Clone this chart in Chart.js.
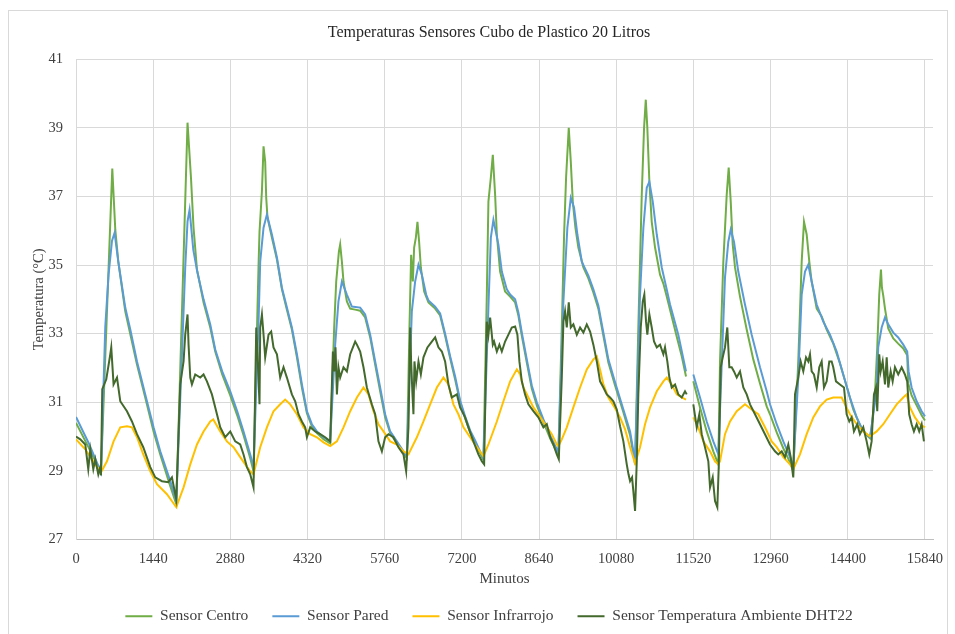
<!DOCTYPE html>
<html>
<head>
<meta charset="utf-8">
<script src="https://cdn.jsdelivr.net/npm/chart.js@4.4.0/dist/chart.umd.min.js"></script>
<style>
  html, body { margin: 0; padding: 0; background: #fff; }
  #frame { position: absolute; left: 8px; top: 10px; width: 938px; height: 640px; border: 1px solid #d9d9d9; }
  #wrap { position: absolute; left: 0; top: 0; width: 955px; height: 634px; }
</style>
</head>
<body>
<div id="frame"></div>
<div id="wrap"><canvas id="tempChart" width="955" height="634"></canvas></div>
<script>
// readings: [minute, °C]  (null = gap in the logger)
const sensorCentro = [
  [0,30.4],[230,29.7],[466,28.96],[677,37.81],[733,36.03],[789,35.1],[919,33.65],[1138,32.1],[1292,31.14],[1447,30.15],[1572,29.48],[1759,28.55],[1871,28.03],
  [2081,39.15],[2145,37.55],[2193,36.09],[2257,34.87],[2380,33.91],[2505,33.18],[2598,32.48],[2728,31.81],[2878,31.2],[3008,30.62],[3126,30.04],[3251,29.37],[3312,28.99],
  [3405,34.93],[3424,35.97],[3469,37.15],[3499,38.46],[3530,38.01],[3549,36.96],[3573,36.38],[3655,35.8],[3749,35.16],[3842,34.29],[3935,33.7],[4028,33.12],[4122,32.31],[4215,31.43],[4308,30.68],[4401,30.3],[4495,30.1],[4618,29.92],[4743,29.8],
  [4817,33.18],[4855,34.52],[4905,35.39],[4929,35.6],[4961,35.1],[4991,34.52],[5054,33.94],[5116,33.73],[5209,33.7],[5302,33.67],[5395,33.47],[5489,32.89],[5582,32.1],[5675,31.32],[5768,30.56],[5862,30.1],[5987,29.8],[6110,29.51],[6173,29.37],
  [6222,33.18],[6253,35.3],[6285,34.52],[6309,35.51],[6341,35.8],[6371,36.26],[6402,35.68],[6434,34.93],[6496,34.23],[6576,33.91],[6701,33.73],[6794,33.53],[6887,32.94],[6981,32.28],[7074,31.66],[7167,31.0],[7260,30.53],[7354,30.12],[7447,29.83],[7540,29.51],[7602,29.31],
  [7665,34.14],[7695,36.85],[7740,37.55],[7777,38.21],[7820,37.05],[7852,35.89],[7913,34.81],[8006,34.23],[8100,34.08],[8193,33.91],[8254,33.53],[8318,32.94],[8411,32.16],[8504,31.4],[8598,30.91],[8721,30.42],[8846,29.95],[8971,29.54],[9000,29.45],
  [9064,33.18],[9107,35.89],[9144,37.55],[9194,39.0],[9232,38.01],[9269,36.85],[9318,36.09],[9373,35.51],[9467,34.93],[9560,34.61],[9653,34.2],[9746,33.73],[9840,32.94],[9933,32.16],[10058,31.49],[10213,30.71],[10338,30.04],[10431,29.19],
  [10492,33.18],[10556,37.05],[10599,39.0],[10631,39.82],[10660,39.0],[10698,37.43],[10742,36.26],[10804,35.51],[10897,34.72],[10959,34.46],[11022,34.08],[11115,33.5],[11209,32.91],[11302,32.34],[11382,31.75],[11450,null],[11518,31.61],[11643,30.85],[11768,30.15],[11891,29.57],[11985,29.19],
  [12016,32.19],[12078,35.1],[12141,37.05],[12178,37.84],[12216,36.85],[12253,35.6],[12296,34.93],[12389,34.08],[12514,33.12],[12637,32.25],[12762,31.55],[12887,30.88],[12949,30.65],[13074,30.12],[13197,29.66],[13322,29.25],[13383,28.99],
  [13476,32.19],[13540,35.1],[13583,36.26],[13633,35.89],[13682,35.1],[13726,34.52],[13820,33.73],[13913,33.5],[14006,33.12],[14129,32.71],[14254,32.13],[14379,31.46],[14502,30.79],[14627,30.33],[14752,30.04],[14814,29.95],
  [14845,30.27],[14907,31.23],[14950,32.6],[14987,34.14],[15019,34.87],[15037,34.34],[15062,34.11],[15094,33.73],[15155,33.15],[15249,32.86],[15341,32.71],[15435,32.57],[15509,32.37],[15528,31.55],[15591,31.2],[15685,30.91],[15778,30.62],[15840,30.47]
];

const sensorPared = [
  [0,30.57],[240,29.8],[466,28.96],[546,33.2],[608,34.72],[671,35.7],[720,35.94],[789,35.1],[919,33.76],[1013,33.12],[1138,32.19],[1292,31.23],[1447,30.27],[1572,29.57],[1759,28.7],[1871,28.12],
  [1977,32.4],[2038,34.93],[2081,36.27],[2119,36.61],[2188,35.45],[2262,34.81],[2380,34.0],[2505,33.27],[2598,32.54],[2728,31.9],[2878,31.32],[3008,30.74],[3126,30.15],[3251,29.48],[3312,29.11],
  [3405,33.27],[3437,35.1],[3499,36.09],[3562,36.47],[3655,35.89],[3749,35.22],[3842,34.34],[3935,33.76],[4028,33.18],[4122,32.4],[4215,31.52],[4308,30.74],[4401,30.36],[4495,30.15],[4618,29.98],[4743,29.86],
  [4836,32.68],[4897,33.94],[4961,34.52],[5054,34.14],[5147,33.79],[5302,33.76],[5395,33.56],[5489,32.97],[5582,32.19],[5675,31.43],[5768,30.65],[5862,30.15],[5987,29.86],[6110,29.57],[6173,29.43],
  [6266,33.65],[6328,34.52],[6390,35.01],[6453,34.72],[6533,34.14],[6576,33.97],[6701,33.79],[6794,33.59],[6887,33.0],[6981,32.34],[7074,31.75],[7167,31.05],[7260,30.59],[7354,30.18],[7447,29.89],[7540,29.57],[7602,29.37],
  [7695,33.76],[7740,35.8],[7788,36.32],[7881,35.6],[7945,34.81],[8038,34.29],[8100,34.14],[8193,34.0],[8254,33.62],[8318,33.03],[8411,32.25],[8504,31.49],[8598,31.0],[8721,30.5],[8846,30.04],[8971,29.63],[9000,29.54],
  [9094,33.94],[9168,36.09],[9232,36.96],[9293,36.67],[9355,35.89],[9437,35.1],[9560,34.69],[9653,34.29],[9746,33.82],[9840,33.03],[9933,32.25],[10058,31.58],[10213,30.79],[10338,30.15],[10431,29.28],
  [10524,34.14],[10586,36.09],[10649,37.25],[10698,37.43],[10761,36.85],[10836,35.89],[10929,34.93],[11022,34.29],[11084,33.85],[11238,32.97],[11382,31.9],[11450,null],[11518,31.81],[11643,31.14],[11768,30.44],[11891,29.86],[11985,29.48],
  [12109,34.64],[12171,35.68],[12216,36.03],[12277,35.68],[12357,34.81],[12482,33.85],[12607,32.97],[12762,32.02],[12887,31.32],[12949,30.94],[13074,30.36],[13197,29.86],[13322,29.4],[13383,29.11],
  [13476,31.7],[13540,34.14],[13602,34.81],[13663,35.01],[13726,34.52],[13820,33.85],[13943,33.35],[14068,32.97],[14193,32.48],[14316,31.81],[14441,31.14],[14566,30.56],[14689,30.15],[14814,29.98],
  [14845,30.3],[14939,31.37],[14968,32.6],[15032,33.18],[15094,33.47],[15155,33.27],[15249,33.03],[15341,32.89],[15435,32.68],[15509,32.48],[15535,31.9],[15591,31.43],[15685,31.03],[15778,30.74],[15840,30.59]
];

const sensorInfrarrojo = [
  [0,29.92],[173,29.63],[360,29.19],[466,28.96],[578,29.28],[701,29.86],[826,30.27],[951,30.3],[1044,30.27],[1138,29.98],[1255,29.48],[1386,28.99],[1511,28.61],[1697,28.32],[1871,27.94],
  [2007,28.52],[2132,29.19],[2257,29.77],[2380,30.15],[2505,30.44],[2561,30.5],[2691,30.15],[2816,29.86],[2939,29.69],[3064,29.4],[3157,29.19],[3251,28.99],[3312,28.9],
  [3437,29.69],[3562,30.27],[3685,30.74],[3810,30.94],[3903,31.08],[3997,30.94],[4122,30.65],[4245,30.27],[4370,30.07],[4495,29.98],[4618,29.83],[4743,29.72],
  [4868,29.86],[4991,30.27],[5116,30.74],[5241,31.14],[5364,31.43],[5457,31.23],[5550,30.74],[5643,30.36],[5737,30.15],[5862,29.86],[5987,29.77],[6110,29.57],[6173,29.51],
  [6203,29.48],[6360,29.98],[6483,30.44],[6608,30.94],[6733,31.43],[6856,31.72],[6949,31.52],[7042,30.94],[7135,30.65],[7229,30.27],[7354,29.98],[7479,29.69],[7602,29.43],
  [7695,29.77],[7852,30.44],[7975,31.03],[8100,31.61],[8225,31.96],[8286,31.81],[8348,31.43],[8441,31.14],[8534,30.85],[8627,30.65],[8752,30.36],[8877,30.07],[8971,29.77],[9000,29.72],
  [9064,29.92],[9157,30.27],[9280,30.85],[9405,31.43],[9530,31.96],[9653,32.25],[9717,32.34],[9778,31.95],[9840,31.52],[9933,31.14],[10026,30.91],[10151,30.56],[10245,30.21],[10338,29.69],[10431,29.22],
  [10524,29.69],[10617,30.36],[10711,30.85],[10836,31.32],[10959,31.61],[11022,31.72],[11115,31.52],[11209,31.23],[11302,31.14],[11382,31.08],[11450,null],[11518,30.56],[11611,30.27],[11705,29.86],[11830,29.57],[11923,29.28],[11985,29.19],
  [12016,29.28],[12109,30.07],[12203,30.44],[12328,30.74],[12482,30.94],[12607,30.79],[12730,30.65],[12855,30.27],[12980,29.86],[13074,29.69],[13197,29.4],[13322,29.19],[13383,29.05],
  [13508,29.48],[13633,30.07],[13756,30.56],[13881,30.88],[14006,31.08],[14129,31.14],[14286,31.14],[14347,30.94],[14441,30.65],[14566,30.36],[14689,30.15],[14814,30.01],
  [14939,30.15],[15062,30.36],[15187,30.65],[15312,30.94],[15435,31.14],[15498,31.23],[15560,30.85],[15653,30.56],[15746,30.36],[15840,30.27]
];

const sensorDHT22 = [
  [0,30.0],[80,29.92],[173,29.77],[229,29.05],[267,29.63],[323,29.05],[360,29.34],[416,28.9],[453,29.11],[466,28.87],[490,31.38],[565,31.67],[640,32.4],[658,32.6],[701,31.52],[765,31.72],[826,31.03],[951,30.74],[1044,30.44],[1138,30.07],[1255,29.69],[1386,29.11],[1479,28.81],[1604,28.7],[1721,28.67],[1790,28.81],[1871,28.17],
  [1945,31.52],[2007,32.19],[2038,32.97],[2081,33.56],[2100,32.68],[2132,31.72],[2163,31.52],[2225,31.81],[2318,31.72],[2380,31.81],[2443,31.61],[2536,31.23],[2630,30.65],[2691,30.27],[2784,29.98],[2878,30.15],[2971,29.86],[3064,29.77],[3126,29.48],[3189,29.11],[3251,28.9],[3312,28.52],
  [3363,33.18],[3387,32.4],[3424,30.94],[3437,33.18],[3469,33.56],[3499,32.97],[3530,32.31],[3592,32.97],[3642,33.06],[3685,32.6],[3749,32.4],[3810,31.72],[3872,32.02],[3935,31.72],[4028,31.23],[4090,31.03],[4151,30.65],[4215,30.44],[4276,30.27],[4308,29.98],[4370,30.27],[4463,30.15],[4556,30.07],[4649,29.98],[4743,29.86],
  [4793,32.48],[4817,31.9],[4842,32.6],[4868,31.23],[4897,32.02],[4929,31.72],[4991,32.02],[5054,31.9],[5116,32.4],[5209,32.77],[5241,32.68],[5302,32.48],[5364,32.02],[5427,31.43],[5520,30.94],[5582,30.65],[5643,29.86],[5707,29.57],[5768,29.98],[5830,30.07],[5923,29.98],[6016,29.69],[6110,29.48],[6160,28.99],
  [6203,30.27],[6235,33.18],[6253,32.19],[6278,31.23],[6296,30.65],[6315,32.19],[6347,31.61],[6390,32.19],[6434,31.81],[6483,32.31],[6557,32.6],[6639,32.77],[6701,32.89],[6762,32.6],[6826,32.48],[6887,32.19],[6949,31.52],[7012,31.14],[7106,31.23],[7167,30.85],[7260,30.56],[7322,30.27],[7415,29.86],[7508,29.48],[7572,29.28],[7615,29.19],
  [7665,33.35],[7695,32.97],[7727,33.47],[7777,32.68],[7801,32.77],[7852,32.48],[7900,32.68],[7945,32.48],[8006,32.77],[8068,32.97],[8131,33.18],[8193,33.21],[8236,32.97],[8273,32.19],[8318,31.61],[8379,31.23],[8441,30.94],[8534,30.74],[8627,30.56],[8721,30.27],[8784,30.36],[8846,29.98],[8907,29.77],[8971,29.48],[9008,29.34],
  [9064,31.72],[9094,33.35],[9125,33.65],[9157,33.18],[9194,33.91],[9232,33.18],[9280,33.27],[9344,32.97],[9405,33.18],[9467,33.03],[9530,33.27],[9592,33.06],[9653,32.68],[9717,32.19],[9778,31.61],[9840,31.43],[9903,31.23],[9965,31.14],[10026,31.03],[10090,30.79],[10151,30.3],[10213,29.86],[10276,29.19],[10309,28.9],[10338,28.7],[10375,28.81],[10399,28.41],[10431,27.83],
  [10463,29.28],[10492,31.23],[10537,33.18],[10575,33.94],[10604,34.14],[10636,33.35],[10660,32.97],[10698,33.56],[10742,33.18],[10785,32.77],[10836,32.6],[10897,32.68],[10959,32.4],[10990,32.6],[11033,32.19],[11071,31.72],[11115,31.43],[11177,31.52],[11238,31.23],[11302,31.14],[11363,31.32],[11395,31.23],[11450,null],[11518,30.94],[11582,30.27],[11630,30.65],[11675,30.07],[11736,29.69],[11798,29.28],[11830,28.52],[11880,28.81],[11923,28.12],[11966,27.94],[11992,29.11],
  [12029,32.02],[12067,32.31],[12109,32.6],[12152,33.18],[12190,32.02],[12234,32.02],[12277,31.9],[12328,31.72],[12389,31.9],[12451,31.43],[12514,31.23],[12576,30.94],[12669,30.65],[12762,30.36],[12855,30.07],[12949,29.77],[13042,29.57],[13103,29.48],[13167,29.57],[13228,29.4],[13290,29.77],[13335,29.4],[13383,28.81],
  [13415,31.23],[13476,31.72],[13521,32.19],[13570,31.9],[13621,32.31],[13663,32.19],[13695,32.4],[13726,31.9],[13769,31.81],[13820,31.43],[13868,32.02],[13913,32.19],[13956,31.43],[14006,31.61],[14055,32.19],[14099,32.19],[14129,32.02],[14180,31.61],[14254,31.52],[14329,31.43],[14379,30.65],[14428,30.44],[14472,30.56],[14515,30.15],[14577,30.36],[14627,30.07],[14689,30.27],[14752,29.86],[14801,29.48],
  [14845,29.86],[14888,31.23],[14926,31.43],[14950,30.74],[14987,32.4],[15013,31.9],[15051,32.19],[15094,31.52],[15126,32.31],[15155,31.43],[15200,31.9],[15237,31.61],[15280,32.02],[15341,31.81],[15405,32.02],[15466,31.81],[15509,31.61],[15546,30.65],[15591,30.36],[15634,30.15],[15685,30.36],[15733,30.15],[15778,30.36],[15821,29.86]
];

const xTicks = [0, 1440, 2880, 4320, 5760, 7200, 8640, 10080, 11520, 12960, 14400, 15840];
const yTicks = [27, 29, 31, 33, 35, 37, 39, 41];

const serif = 'Liberation Serif, Times New Roman, serif';
const textColor = '#404040';
const gridColor = '#D9D9D9';

function lineSet(label, data, color, order) {
    return {
        label: label,
        data: data,
        borderColor: color,
        backgroundColor: color,
        borderWidth: 2,
        pointRadius: 0,
        tension: 0,
        fill: false,
        spanGaps: false,
        order: order // later series drawn on top, like the spreadsheet
    };
}

new Chart(document.getElementById('tempChart'), {
    type: 'line',
    data: {
        datasets: [
            lineSet('Sensor Centro', sensorCentro, '#70AD47', 4),
            lineSet('Sensor Pared', sensorPared, '#5B9BD5', 3),
            lineSet('Sensor Infrarrojo', sensorInfrarrojo, '#FFC000', 2),
            lineSet('Sensor Temperatura Ambiente DHT22', sensorDHT22, '#43692D', 1)
        ]
    },
    options: {
        responsive: false,
        animation: false,
        devicePixelRatio: 1,
        layout: { padding: { top: 10, left: 26, right: 3, bottom: 0 } },
        scales: {
            x: {
                type: 'linear',
                min: 0,
                max: 15990,
                afterBuildTicks: s => { s.ticks = xTicks.map(v => ({ value: v })); },
                afterFit: s => { s.height = 45; },
                ticks: {
                    autoSkip: false,
                    maxRotation: 0,
                    padding: 11,
                    color: textColor,
                    font: { family: serif, size: 14.5 },
                    callback: v => String(v)
                },
                grid: { color: gridColor, drawTicks: false },
                border: { color: '#BFBFBF' },
                title: {
                    display: true,
                    text: 'Minutos',
                    color: textColor,
                    font: { family: serif, size: 15 },
                    padding: { top: 0, bottom: -4 }
                }
            },
            y: {
                min: 27,
                max: 41,
                afterBuildTicks: s => { s.ticks = yTicks.map(v => ({ value: v })); },
                afterFit: s => { s.width = 50; },
                ticks: {
                    padding: 13,
                    color: textColor,
                    font: { family: serif, size: 14.5 },
                    callback: v => String(v)
                },
                grid: { color: gridColor, drawTicks: false },
                border: { color: gridColor },
                title: {
                    display: true,
                    text: 'Temperatura (°C)',
                    color: textColor,
                    font: { family: serif, size: 14.5 },
                    padding: { top: 4, bottom: 0 }
                }
            },
            // empty right axis, only keeps title and legend centred like the original
            yRight: {
                position: 'right',
                display: true,
                grid: { display: false },
                border: { display: false },
                ticks: { display: false },
                afterFit: s => { s.width = 19; }
            }
        },
        plugins: {
            title: {
                display: true,
                text: 'Temperaturas Sensores Cubo de Plastico 20 Litros',
                color: '#262626',
                font: { family: serif, size: 16, weight: 'normal' },
                padding: { top: 13, bottom: 17 }
            },
            legend: {
                position: 'bottom',
                labels: {
                    boxWidth: 27,
                    boxHeight: 0,
                    padding: 24,
                    color: textColor,
                    font: { family: serif, size: 15.5 },
                    sort: (a, b) => a.datasetIndex - b.datasetIndex
                }
            },
            tooltip: { enabled: false }
        }
    }
});
</script>
</body>
</html>
